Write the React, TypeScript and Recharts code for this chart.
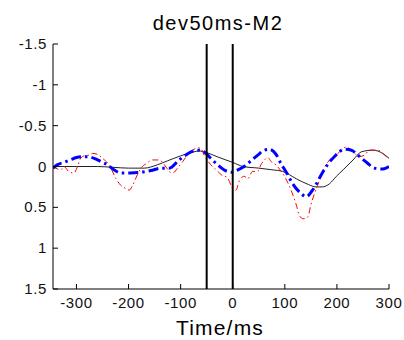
import React from "react";
import { LineChart, Line, XAxis, YAxis, ReferenceLine } from "recharts";

const title = "dev50ms-M2";
const xLabel = "Time/ms";
const xTicks = [-300, -200, -100, 0, 100, 200, 300];
const yTicks = [-1.5, -1, -0.5, 0, 0.5, 1, 1.5];
const markerTimes = [-50, 0];

const blackTime = [-345, -300, -260, -230, -200, -170, -145, -125, -100, -80, -65, -50, -30, -13, 0, 20, 50, 75, 96, 122, 145, 160, 172, 186, 199, 212, 231, 247, 269, 288, 300];
const blackValue = [0.0, 0.0, 0.0, 0.01, 0.02, 0.02, -0.02, -0.07, -0.13, -0.17, -0.19, -0.17, -0.12, -0.08, -0.05, 0.0, 0.02, 0.04, 0.06, 0.15, 0.22, 0.25, 0.25, 0.21, 0.12, 0.04, -0.08, -0.18, -0.2, -0.16, -0.1];

const redTime = [-345, -330, -324, -315, -305, -298, -292, -285, -276, -269, -260, -250, -240, -234, -224, -215, -205, -199, -192, -183, -176, -165, -154, -141, -131, -122, -115, -106, -96, -87, -77, -67, -61, -55, -42, -32, -22, -10, 0, 6, 13, 22, 29, 38, 48, 54, 61, 67, 74, 83, 93, 102, 112, 122, 128, 135, 144, 150, 157, 163, 170, 179, 189, 202, 212, 218, 231, 243, 253, 263, 279, 295, 300];
const redValue = [0.0, 0.04, 0.0, 0.06, 0.08, 0.0, -0.1, -0.13, -0.14, -0.16, -0.15, -0.1, -0.04, 0.02, 0.15, 0.23, 0.27, 0.29, 0.23, 0.1, 0.02, -0.04, -0.08, -0.08, -0.02, 0.06, 0.08, 0.02, -0.06, -0.14, -0.2, -0.23, -0.22, -0.14, -0.02, 0.04, 0.1, 0.14, 0.27, 0.29, 0.17, 0.12, 0.15, 0.06, 0.06, -0.02, -0.08, -0.11, -0.06, -0.02, 0.06, 0.15, 0.29, 0.47, 0.6, 0.64, 0.62, 0.47, 0.33, 0.23, 0.1, -0.02, -0.1, -0.16, -0.22, -0.24, -0.18, -0.12, -0.14, -0.2, -0.2, -0.12, -0.1];

const blueTime = [-345, -337, -324, -312, -300, -288, -279, -266, -253, -240, -228, -215, -196, -176, -157, -138, -122, -103, -90, -80, -67, -55, -42, -29, -17, -3, 10, 22, 35, 48, 61, 70, 83, 93, 102, 115, 131, 141, 152, 160, 170, 183, 195, 215, 228, 240, 259, 272, 288, 300];
const blueValue = [0.02, -0.02, -0.05, -0.08, -0.11, -0.12, -0.12, -0.1, -0.06, -0.02, 0.04, 0.08, 0.08, 0.07, 0.05, 0.02, 0.02, -0.08, -0.14, -0.18, -0.2, -0.18, -0.1, -0.02, 0.04, 0.07, 0.04, 0.0, -0.07, -0.14, -0.2, -0.21, -0.15, -0.03, 0.06, 0.21, 0.33, 0.37, 0.3, 0.22, 0.1, -0.03, -0.12, -0.21, -0.2, -0.14, -0.04, 0.02, 0.03, 0.0];

const zip = (ts: number[], vs: number[]) => ts.map((t, i) => ({ t, v: vs[i] }));
const blackData = zip(blackTime, blackValue);
const redData = zip(redTime, redValue);
const blueData = zip(blueTime, blueValue);

const FONT = "'Liberation Sans', Arial, Helvetica, sans-serif";
const TICK_LEN = 5;

const BottomTick = (p: any) => (
  <g>
    <line x1={p.x} y1={p.y} x2={p.x} y2={p.y - TICK_LEN} stroke="#000" strokeWidth={1} />
    <text x={p.x} y={p.y + 19} textAnchor="middle" fontSize={15} fontFamily={FONT} fill="#111" letterSpacing={0.6}>
      {String(p.payload.value)}
    </text>
  </g>
);
const TopTick = (p: any) => (
  <line x1={p.x} y1={p.y} x2={p.x} y2={p.y + TICK_LEN} stroke="#000" strokeWidth={1} />
);
const LeftTick = (p: any) => (
  <g>
    <line x1={p.x} y1={p.y} x2={p.x + TICK_LEN} y2={p.y} stroke="#000" strokeWidth={1} />
    <text x={p.x - 6} y={p.y + 5} textAnchor="end" fontSize={15} fontFamily={FONT} fill="#111" letterSpacing={0.6}>
      {String(p.payload.value)}
    </text>
  </g>
);
const RightTick = (p: any) => (
  <line x1={p.x} y1={p.y} x2={p.x - TICK_LEN} y2={p.y} stroke="#000" strokeWidth={1} />
);

export default function App() {
  return (
    <div style={{ position: "absolute", left: 0, top: 0, width: 404, height: 340, background: "#fff" }}>
      <LineChart width={404} height={340} margin={{ top: 44, right: 15, bottom: 0, left: 0 }}>
        <XAxis
          xAxisId="b"
          type="number"
          dataKey="t"
          domain={[-345, 300]}
          ticks={xTicks}
          allowDataOverflow
          height={51}
          tickSize={0}
          tickMargin={0}
          axisLine={{ stroke: "#000", strokeWidth: 1 }}
          tickLine={false}
          tick={<BottomTick />}
          interval={0}
        />
        <XAxis
          xAxisId="t"
          orientation="top"
          type="number"
          dataKey="t"
          domain={[-345, 300]}
          ticks={xTicks}
          allowDataOverflow
          height={0}
          tickSize={0}
          tickMargin={0}
          axisLine={{ stroke: "#000", strokeWidth: 1 }}
          tickLine={false}
          tick={<TopTick />}
          interval={0}
        />
        <YAxis
          yAxisId="l"
          type="number"
          dataKey="v"
          domain={[-1.5, 1.5]}
          reversed
          ticks={yTicks}
          allowDataOverflow
          width={53}
          tickSize={0}
          tickMargin={0}
          axisLine={{ stroke: "#000", strokeWidth: 1 }}
          tickLine={false}
          tick={<LeftTick />}
          interval={0}
        />
        <YAxis
          yAxisId="r"
          orientation="right"
          type="number"
          dataKey="v"
          domain={[-1.5, 1.5]}
          reversed
          ticks={yTicks}
          allowDataOverflow
          width={0}
          tickSize={0}
          tickMargin={0}
          axisLine={{ stroke: "#000", strokeWidth: 1 }}
          tickLine={false}
          tick={<RightTick />}
          interval={0}
        />
        <Line
          xAxisId="b"
          yAxisId="l"
          data={blackData}
          dataKey="v"
          type="monotone"
          stroke="#222"
          strokeWidth={1}
          dot={false}
          isAnimationActive={false}
        />
        <Line
          xAxisId="b"
          yAxisId="l"
          data={redData}
          dataKey="v"
          type="monotone"
          stroke="#ff0000"
          strokeWidth={1}
          strokeDasharray="6 3 1.5 3"
          dot={false}
          isAnimationActive={false}
        />
        <Line
          xAxisId="b"
          yAxisId="l"
          data={blueData}
          dataKey="v"
          type="monotone"
          stroke="#0000ff"
          strokeWidth={3}
          strokeDasharray="10 4 2.5 4"
          dot={false}
          isAnimationActive={false}
        />
        {markerTimes.map((m) => (
          <ReferenceLine key={m} xAxisId="b" yAxisId="l" x={m} stroke="#000" strokeWidth={2} />
        ))}
      </LineChart>
      <svg width={404} height={340} style={{ position: "absolute", left: 0, top: 0, pointerEvents: "none" }}>
        <text x={218} y={30} textAnchor="middle" fontSize={20} fontFamily={FONT} fill="#000" letterSpacing={1.5}>
          {title}
        </text>
        <text x={220} y={335} textAnchor="middle" fontSize={21} fontFamily={FONT} fill="#000" letterSpacing={1.2}>
          {xLabel}
        </text>
      </svg>
    </div>
  );
}
